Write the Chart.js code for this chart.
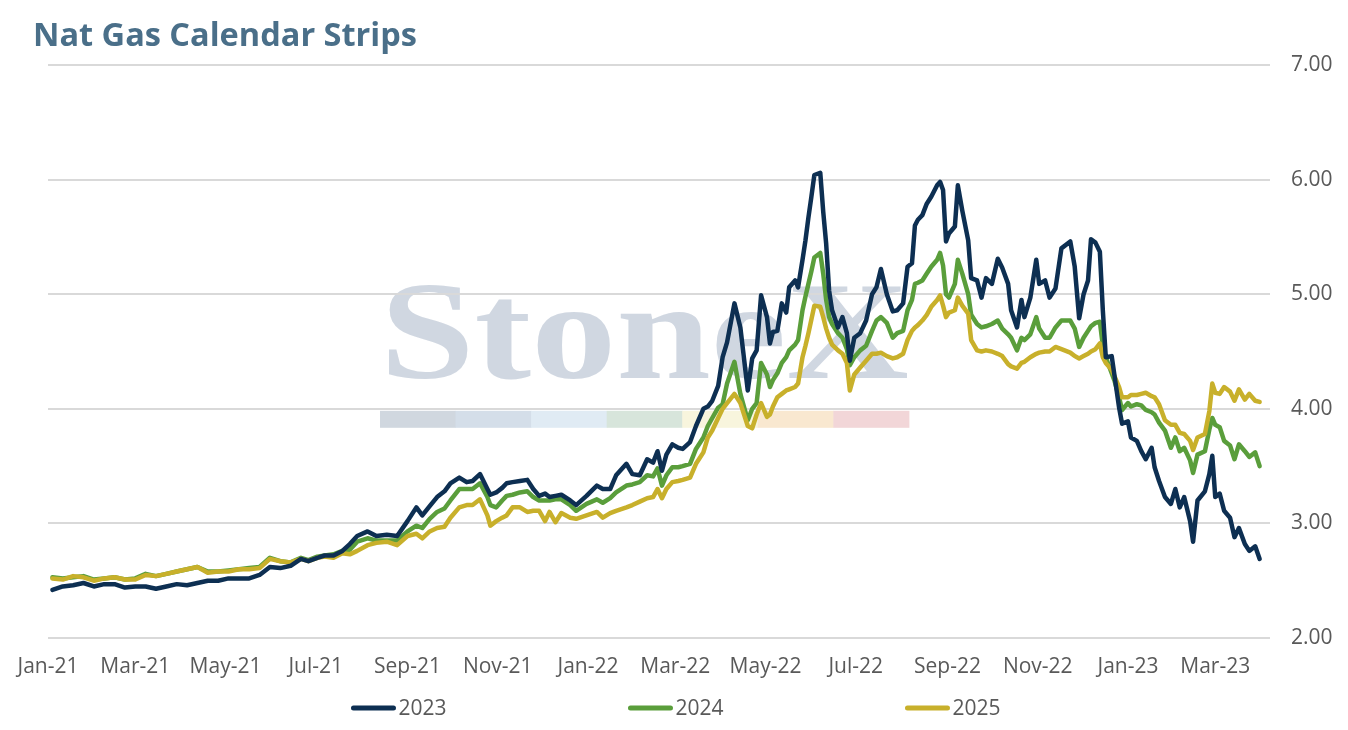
<!DOCTYPE html>
<html>
<head>
<meta charset="utf-8">
<script src="https://cdn.jsdelivr.net/npm/chart.js@4.4.1/dist/chart.umd.min.js"></script>
<style>
  html, body { margin: 0; padding: 0; background: #ffffff; }
  #wrap { width: 1348px; height: 730px; }
</style>
</head>
<body>
<div id="wrap"><canvas id="c" width="1348" height="730"></canvas></div>
<script>
// ---- data (x = days since 1 Jan 2021) ----
const titleText = "Nat Gas Calendar Strips";
const seriesLabels = ["2023", "2024", "2025"];
const tickDays = [0, 59, 120, 181, 243, 304, 365, 424, 485, 546, 608, 669, 730, 789];
const tickLabels = ["Jan-21","Mar-21","May-21","Jul-21","Sep-21","Nov-21","Jan-22","Mar-22","May-22","Jul-22","Sep-22","Nov-22","Jan-23","Mar-23"];
const yTicks = [2, 3, 4, 5, 6, 7];

const days = [
  3,10,17,24,31,38,45,52,59,66,
  73,80,87,94,101,108,115,122,129,136,
  143,150,157,164,171,176,182,187,193,199,
  204,209,216,222,229,236,243,249,253,258,
  263,268,272,278,283,287,292,297,299,303,
  307,310,314,319,324,328,332,336,339,343,
  347,353,357,364,371,375,380,384,391,395,
  400,405,409,412,415,418,422,426,429,434,
  438,443,446,449,453,456,459,464,468,473,
  476,479,482,486,488,490,493,496,499,501,
  505,507,510,512,514,516,518,522,524,526,
  528,530,534,537,540,542,545,549,553,557,
  560,563,567,571,574,578,581,584,586,588,
  591,594,597,601,603,605,607,609,613,615,
  618,622,624,628,631,634,638,642,645,649,
  651,655,658,660,664,668,670,674,677,681,
  685,691,694,697,700,703,705,708,711,713,
  715,719,721,724,726,730,732,736,739,742,
  746,748,751,755,759,762,765,768,772,774,
  777,782,785,787,789,792,795,799,802,805,
  809,812,816,819
];

const strip2023 = [
  2.42,2.45,2.46,2.48,2.45,2.47,2.47,2.44,2.45,2.45,
  2.43,2.45,2.47,2.46,2.48,2.50,2.50,2.52,2.52,2.52,
  2.55,2.62,2.61,2.63,2.69,2.67,2.70,2.72,2.72,2.76,
  2.82,2.89,2.93,2.89,2.90,2.89,3.02,3.14,3.07,3.15,
  3.23,3.28,3.35,3.40,3.36,3.37,3.43,3.30,3.25,3.27,
  3.31,3.35,3.36,3.37,3.38,3.30,3.24,3.26,3.23,3.24,
  3.25,3.20,3.16,3.24,3.33,3.30,3.30,3.42,3.52,3.43,
  3.42,3.56,3.53,3.63,3.46,3.60,3.69,3.66,3.65,3.71,
  3.85,4.00,4.02,4.07,4.20,4.45,4.58,4.92,4.71,4.16,
  4.44,4.51,4.99,4.80,4.57,4.67,4.68,4.92,4.84,5.06,
  5.12,5.06,5.30,5.47,5.67,5.85,6.04,6.06,5.72,5.44,
  5.03,4.86,4.71,4.80,4.66,4.42,4.62,4.66,4.77,5.00,
  5.06,5.22,5.00,4.85,4.86,4.92,5.24,5.27,5.60,5.65,
  5.69,5.79,5.85,5.95,5.98,5.91,5.46,5.53,5.59,5.95,
  5.73,5.47,5.14,5.12,4.97,5.14,5.09,5.31,5.23,5.09,
  4.86,4.71,4.95,4.80,4.97,5.30,5.09,5.12,4.97,5.05,
  5.40,5.46,5.24,4.79,5.00,5.12,5.48,5.45,5.37,4.86,
  4.45,4.46,4.28,4.01,3.87,3.89,3.75,3.72,3.63,3.56,
  3.66,3.49,3.37,3.23,3.17,3.30,3.14,3.23,3.02,2.84,
  3.20,3.28,3.43,3.59,3.23,3.26,3.11,3.05,2.88,2.96,
  2.82,2.76,2.80,2.69
];

const strip2024 = [
  2.53,2.52,2.53,2.54,2.51,2.52,2.53,2.51,2.52,2.56,
  2.54,2.56,2.58,2.60,2.62,2.58,2.58,2.59,2.60,2.61,
  2.62,2.70,2.67,2.66,2.70,2.68,2.71,2.72,2.73,2.76,
  2.77,2.84,2.87,2.85,2.85,2.85,2.93,2.98,2.96,3.04,
  3.10,3.13,3.20,3.30,3.30,3.30,3.35,3.23,3.16,3.14,
  3.20,3.24,3.25,3.27,3.28,3.23,3.20,3.20,3.20,3.21,
  3.21,3.16,3.11,3.17,3.21,3.18,3.22,3.27,3.33,3.34,
  3.36,3.42,3.41,3.48,3.33,3.42,3.49,3.49,3.50,3.52,
  3.65,3.75,3.85,3.92,4.01,4.04,4.22,4.41,4.13,3.90,
  4.00,4.05,4.40,4.30,4.19,4.25,4.31,4.40,4.45,4.51,
  4.56,4.60,4.86,4.98,5.09,5.20,5.32,5.36,5.18,4.95,
  4.80,4.74,4.66,4.62,4.52,4.38,4.45,4.51,4.55,4.68,
  4.77,4.80,4.75,4.62,4.66,4.68,4.86,4.95,5.09,5.10,
  5.12,5.18,5.24,5.30,5.36,5.25,5.00,4.97,5.09,5.30,
  5.18,5.00,4.82,4.74,4.71,4.72,4.74,4.77,4.70,4.65,
  4.62,4.51,4.62,4.60,4.65,4.80,4.70,4.62,4.62,4.71,
  4.77,4.77,4.70,4.54,4.62,4.68,4.72,4.75,4.76,4.55,
  4.45,4.31,4.24,4.10,3.99,4.05,4.02,4.04,4.03,3.99,
  3.97,3.95,3.88,3.81,3.66,3.75,3.63,3.66,3.55,3.44,
  3.60,3.63,3.82,3.92,3.86,3.84,3.72,3.68,3.56,3.69,
  3.63,3.58,3.62,3.50
];

const strip2025 = [
  2.52,2.51,2.54,2.53,2.50,2.52,2.53,2.51,2.51,2.55,
  2.54,2.56,2.58,2.60,2.62,2.57,2.58,2.58,2.60,2.60,
  2.61,2.69,2.67,2.66,2.69,2.67,2.70,2.71,2.70,2.74,
  2.73,2.76,2.81,2.83,2.84,2.81,2.89,2.91,2.87,2.93,
  2.96,2.97,3.05,3.14,3.16,3.16,3.21,3.07,2.98,3.02,
  3.05,3.07,3.14,3.14,3.10,3.11,3.11,3.02,3.10,3.01,
  3.09,3.05,3.04,3.07,3.10,3.05,3.09,3.11,3.14,3.16,
  3.19,3.22,3.23,3.30,3.22,3.30,3.36,3.37,3.38,3.40,
  3.52,3.62,3.75,3.81,3.92,4.00,4.05,4.13,4.05,3.85,
  3.83,3.95,4.05,3.93,3.95,4.02,4.10,4.13,4.16,4.17,
  4.19,4.22,4.45,4.55,4.66,4.78,4.90,4.89,4.80,4.70,
  4.62,4.56,4.51,4.48,4.40,4.16,4.30,4.36,4.42,4.48,
  4.48,4.49,4.46,4.44,4.45,4.48,4.60,4.68,4.71,4.73,
  4.77,4.82,4.89,4.95,4.99,4.90,4.80,4.84,4.86,4.97,
  4.90,4.83,4.60,4.51,4.50,4.51,4.50,4.48,4.46,4.39,
  4.37,4.35,4.40,4.41,4.45,4.48,4.49,4.50,4.50,4.54,
  4.52,4.49,4.46,4.44,4.46,4.48,4.50,4.52,4.57,4.45,
  4.40,4.34,4.28,4.19,4.10,4.10,4.12,4.12,4.13,4.14,
  4.11,4.10,4.04,3.90,3.86,3.86,3.79,3.78,3.72,3.64,
  3.75,3.78,3.98,4.22,4.14,4.13,4.19,4.15,4.07,4.17,
  4.08,4.13,4.07,4.06
];

// ---- styles ----
const colors = ["#0d2f52", "#5a9e3b", "#c8b02b"];
const FONT = '"Open Sans", "Noto Sans", sans-serif';
const TEXT = "#595959";

const toPts = arr => days.map((d, i) => ({ x: d, y: arr[i] }));

const watermark = {
  id: "watermark",
  beforeDraw(chart) {
    const { ctx, chartArea: a } = chart;
    const W = a.right - a.left;
    const x0 = a.left + W * 0.2717, x1 = a.left + W * 0.7045;
    const y = chart.scales.y;
    ctx.save();
    ctx.fillStyle = "rgba(196,205,217,0.80)";
    ctx.font = 'bold 140px "Liberation Serif", "DejaVu Serif", serif';
    ctx.textBaseline = "alphabetic";
    const tw = ctx.measureText("StoneX").width;
    const base = y.getPixelForValue(4.27);
    ctx.translate(x0, base);
    ctx.scale((x1 - x0) / tw, 1);
    ctx.fillText("StoneX", 0, 0);
    ctx.restore();
    const bar = ["#d0d7df", "#d4dee9", "#e0ebf4", "#d7e5db", "#f8f5dd", "#f9e8d0", "#f2d6d8"];
    const top = y.getPixelForValue(4.0) + 2;
    const segW = (x1 - x0) / bar.length;
    ctx.save();
    bar.forEach((c, i) => {
      ctx.fillStyle = c;
      ctx.fillRect(x0 + i * segW, top, segW + 0.5, 17);
    });
    ctx.restore();
  }
};

const bottomLegend = {
  id: "bottomLegend",
  afterDraw(chart) {
    const { ctx } = chart;
    const cy = 708;
    ctx.save();
    ctx.font = "21px " + FONT;
    ctx.textBaseline = "middle";
    chart.data.datasets.forEach((ds, i) => {
      const tw = ctx.measureText(ds.label).width;
      const lineLen = 44, gap = 3;
      const total = lineLen + gap + tw;
      const cx = chart.width / 2 + 2 + (i - 1) * 277;
      const sx = cx - total / 2;
      ctx.strokeStyle = ds.borderColor;
      ctx.lineWidth = 5;
      ctx.lineCap = "round";
      ctx.beginPath();
      ctx.moveTo(sx + 2, cy);
      ctx.lineTo(sx + lineLen - 2, cy);
      ctx.stroke();
      ctx.fillStyle = TEXT;
      ctx.textAlign = "left";
      ctx.fillText(ds.label, sx + lineLen + gap, cy + 1);
    });
    ctx.restore();
  }
};

new Chart(document.getElementById("c"), {
  type: "line",
  data: {
    datasets: [
      { label: seriesLabels[0], data: toPts(strip2023), yAxisID: "y", borderColor: colors[0], backgroundColor: colors[0], order: 0 },
      { label: seriesLabels[1], data: toPts(strip2024), yAxisID: "y", borderColor: colors[1], backgroundColor: colors[1], order: 2 },
      { label: seriesLabels[2], data: toPts(strip2025), yAxisID: "y", borderColor: colors[2], backgroundColor: colors[2], order: 1 }
    ]
  },
  options: {
    responsive: false,
    animation: false,
    devicePixelRatio: 1,
    elements: {
      point: { radius: 0, hoverRadius: 0 },
      line: { borderWidth: 4.5, tension: 0, borderJoinStyle: "round", borderCapStyle: "round" }
    },
    layout: { padding: { left: 33, right: 15, top: 0, bottom: 52 } },
    plugins: {
      legend: { display: false },
      tooltip: { enabled: false },
      title: {
        display: true,
        text: titleText,
        align: "start",
        color: "#4a6f89",
        font: { family: FONT, size: 32.5, weight: "bold" },
        padding: { top: 17, bottom: 9 }
      }
    },
    scales: {
      pad: {
        type: "linear", position: "left", display: true, min: 0, max: 1,
        grid: { display: false, drawTicks: false },
        border: { display: false },
        ticks: { display: false },
        afterFit(s) { s.width = 15; }
      },
      x: {
        type: "linear",
        min: 0,
        max: 826,
        grid: { display: false, drawTicks: false },
        border: { display: false },
        afterBuildTicks(s) { s.ticks = tickDays.map(v => ({ value: v })); },
        afterFit(s) { s.height = 40; },
        ticks: {
          autoSkip: false,
          maxRotation: 0,
          padding: 16,
          color: TEXT,
          font: { family: FONT, size: 21 },
          callback: (v, i) => tickLabels[i]
        }
      },
      y: {
        position: "right",
        min: 2,
        max: 7,
        afterBuildTicks(s) { s.ticks = yTicks.map(v => ({ value: v })); },
        afterFit(s) { s.width = 63; },
        grid: { color: "#d9d9d9", lineWidth: 2, drawTicks: false },
        border: { display: false },
        ticks: {
          padding: 21,
          color: TEXT,
          font: { family: FONT, size: 21 },
          callback: v => v.toFixed(2)
        }
      }
    }
  },
  plugins: [watermark, bottomLegend]
});
</script>
</body>
</html>
